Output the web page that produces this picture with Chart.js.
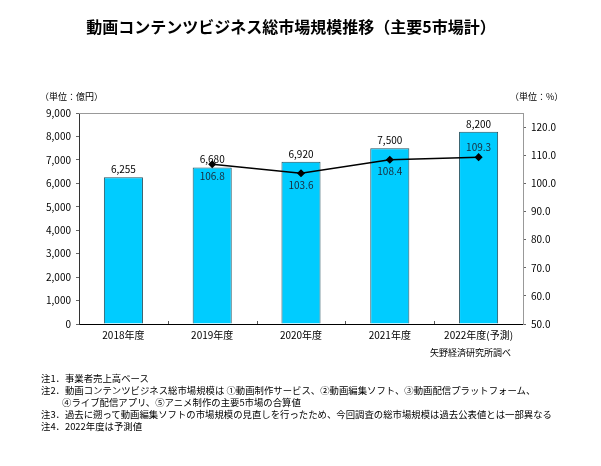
<!DOCTYPE html>
<html lang="ja">
<head>
<meta charset="utf-8">
<script src="https://cdn.jsdelivr.net/npm/chart.js@4.4.0/dist/chart.umd.min.js"></script>
<style>
  body { margin: 0; background: #fff; font-family: "Noto Sans CJK JP", sans-serif; }
  #wrap { position: relative; width: 601px; height: 466px; overflow: hidden; }
  #chart { position: absolute; left: 0; top: 0; }
  .txt { position: absolute; white-space: nowrap; color: #000; }
  #title { left: 0; width: 582px; top: 14px; text-align: center; font-size: 16px; font-weight: bold; }
  .unit { top: 90px; font-size: 9px; }
  #source { top: 346px; right: 90px; font-size: 9px; }
  #notes { left: 41px; top: 372px; font-size: 9.4px; line-height: 12px; }
</style>
</head>
<body>
<div id="wrap">
  <canvas id="chart" width="601" height="466"></canvas>
  <div class="txt" id="title">動画コンテンツビジネス総市場規模推移（主要5市場計）</div>
  <div class="txt unit" style="left:40px">（単位：億円）</div>
  <div class="txt unit" style="left:510px">（単位：%）</div>
  <div class="txt" id="source">矢野経済研究所調べ</div>
  <div class="txt" id="notes">
    <div>注1．事業者売上高ベース</div>
    <div>注2．動画コンテンツビジネス総市場規模は ①動画制作サービス、②動画編集ソフト、③動画配信プラットフォーム、</div>
    <div style="padding-left:21px">④ライブ配信アプリ、⑤アニメ制作の主要5市場の合算値</div>
    <div>注3．過去に遡って動画編集ソフトの市場規模の見直しを行ったため、今回調査の総市場規模は過去公表値とは一部異なる</div>
    <div>注4．2022年度は予測値</div>
  </div>
</div>
<script>
const years = ['2018年度', '2019年度', '2020年度', '2021年度', '2022年度(予測)'];
const marketSize = [6255, 6680, 6920, 7500, 8200];   // 億円
const growthRate = [null, 106.8, 103.6, 108.4, 109.3]; // 前年度比 %
const rateLabelSide = ['', 'below', 'below', 'below', 'above'];

const FONT = '"Noto Sans CJK JP", sans-serif';

const labelPlugin = {
    id: 'labels',
    afterDatasetsDraw(chart) {
        const ctx = chart.ctx;
        const area = chart.chartArea;
        ctx.save();
        // frame top line
        ctx.strokeStyle = '#999';
        ctx.lineWidth = 1;
        ctx.beginPath();
        ctx.moveTo(area.left, area.top + 0.5);
        ctx.lineTo(area.right, area.top + 0.5);
        ctx.stroke();
        // small inner ticks between categories
        ctx.strokeStyle = '#555';
        const step = (area.right - area.left) / years.length;
        for (let i = 1; i < years.length; i++) {
            const x = Math.round(area.left + step * i) + 0.5;
            ctx.beginPath();
            ctx.moveTo(x, area.bottom);
            ctx.lineTo(x, area.bottom - 3);
            ctx.stroke();
        }
        ctx.font = '10px ' + FONT;
        ctx.fillStyle = '#000';
        ctx.textAlign = 'center';
        const bars = chart.getDatasetMeta(0).data;
        bars.forEach((bar, i) => {
            ctx.textBaseline = 'bottom';
            ctx.fillText(marketSize[i].toLocaleString('en-US'), bar.x, bar.y - 3);
        });
        const pts = chart.getDatasetMeta(1).data;
        pts.forEach((pt, i) => {
            if (growthRate[i] == null) return;
            ctx.fillStyle = '#1a2a3a';
            ctx.textBaseline = 'middle';
            const dy = rateLabelSide[i] === 'above' ? -10 : 12;
            ctx.fillText(growthRate[i].toFixed(1), pt.x, pt.y + dy);
        });
        ctx.restore();
    }
};

new Chart(document.getElementById('chart'), {
    type: 'bar',
    data: {
        labels: years,
        datasets: [
            {
                type: 'bar',
                data: marketSize,
                backgroundColor: '#00ccff',
                borderColor: '#23505e',
                borderWidth: 1,
                categoryPercentage: 1,
                barPercentage: 0.44,
                yAxisID: 'y',
                order: 2,
            },
            {
                type: 'line',
                data: growthRate,
                borderColor: '#000',
                borderWidth: 1.5,
                pointStyle: 'rectRot',
                pointRadius: 3,
                pointBackgroundColor: '#000',
                pointBorderColor: '#000',
                yAxisID: 'y1',
                order: 1,
            },
        ],
    },
    options: {
        responsive: false,
        animation: false,
        layout: { padding: { top: 113, left: 0, right: 0, bottom: 0 } },
        plugins: {
            legend: { display: false },
            tooltip: { enabled: false },
        },
        scales: {
            x: {
                grid: { display: false },
                border: { display: true, color: '#000', width: 1 },
                ticks: { color: '#000', font: { family: FONT, size: 10 }, padding: -3, maxRotation: 0 },
                afterFit(scale) { scale.height = 142; },
            },
            y: {
                position: 'left',
                min: 0,
                max: 9000,
                ticks: {
                    stepSize: 1000,
                    color: '#000',
                    padding: 5,
                    font: { family: FONT, size: 10 },
                    callback: (v) => v.toLocaleString('en-US'),
                },
                grid: { drawOnChartArea: false, drawTicks: true, tickLength: 3, color: '#666' },
                border: { color: '#333', width: 1 },
                afterFit(scale) { scale.width = 79; },
            },
            y1: {
                position: 'right',
                min: 50,
                max: 125,
                ticks: {
                    stepSize: 10,
                    color: '#000',
                    padding: 5,
                    font: { family: FONT, size: 10 },
                    callback: (v) => v.toFixed(1),
                },
                afterBuildTicks(scale) { scale.ticks = scale.ticks.filter(t => t.value <= 120); },
                grid: { drawOnChartArea: false, drawTicks: true, tickLength: 3, color: '#666' },
                border: { color: '#999', width: 1 },
                afterFit(scale) { scale.width = 78; },
            },
        },
    },
    plugins: [labelPlugin],
});
</script>
</body>
</html>
